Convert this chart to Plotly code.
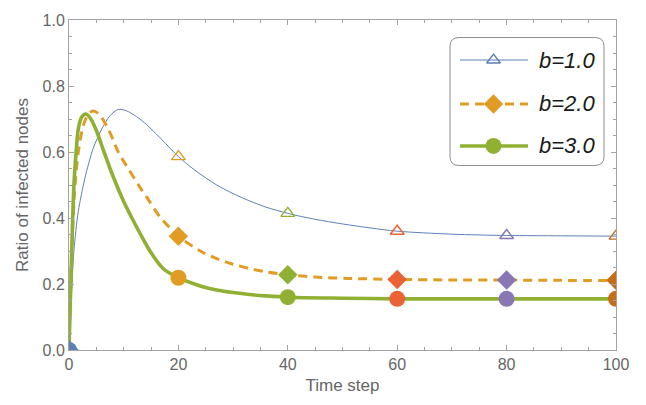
import plotly.graph_objects as go

# ---- data -----------------------------------------------------------------
# ratio of infected nodes over time for three values of b
t_b1 = [0, 0.3, 0.9, 1.7, 2.9, 4.4, 6, 7.5, 9, 10.5, 12, 13.5, 15, 17, 20,
        23, 27, 30, 33, 36, 40, 45, 50, 55, 60, 70, 80, 90, 100]
y_b1 = [0, 0.11, 0.30, 0.42, 0.52, 0.61, 0.67, 0.71, 0.729, 0.725, 0.711, 0.693,
        0.670, 0.637, 0.586, 0.545, 0.500, 0.474, 0.452, 0.433, 0.414, 0.396,
        0.382, 0.370, 0.360, 0.351, 0.347, 0.346, 0.345]

t_b2 = [0, 0.5, 1.1, 1.7, 2.6, 3.5, 4.4, 5.5, 7, 8, 9, 11, 12.7, 14.8, 16.6,
        20, 24, 27, 30, 33, 36, 40, 45, 51, 60, 70, 80, 90, 100]
y_b2 = [0, 0.30, 0.50, 0.60, 0.68, 0.714, 0.724, 0.715, 0.675, 0.64, 0.60,
        0.545, 0.50, 0.448, 0.404, 0.345, 0.300, 0.277, 0.260, 0.247, 0.237,
        0.228, 0.221, 0.217, 0.214, 0.212, 0.212, 0.211, 0.211]

t_b3 = [0, 0.5, 0.9, 1.3, 1.7, 2.3, 3.1, 4, 5, 6.3, 7.5, 8.7, 10, 11.5, 13,
        14.8, 17.2, 20, 24, 27, 30, 33, 36, 40, 50, 60, 70, 80, 90, 100]
y_b3 = [0, 0.305, 0.50, 0.60, 0.67, 0.705, 0.715, 0.70, 0.665, 0.605, 0.55,
        0.50, 0.45, 0.40, 0.353, 0.300, 0.247, 0.219, 0.194, 0.182, 0.174,
        0.168, 0.164, 0.160, 0.157, 0.155, 0.155, 0.155, 0.155, 0.155]

series_names = ["b=1.0", "b=2.0", "b=3.0"]
mesh_t = [0, 20, 40, 60, 80, 100]
mesh_colors = ["#5E81B5", "#E19C24", "#8FB032", "#EB6235", "#8778B3", "#C56E1A"]

x_ticks = [0, 20, 40, 60, 80, 100]
y_ticks = [0.0, 0.2, 0.4, 0.6, 0.8, 1.0]

# ---- styles ---------------------------------------------------------------
FONT = "Liberation Sans, Arial, sans-serif"
FRAME = "#a3a3a3"
LABEL = "#666666"

line_styles = [
    dict(color="#5E81B5", width=1),
    dict(color="#E19C24", width=3, dash="9px,6px"),
    dict(color="#8FB032", width=3.6),
]
marker_styles = [
    dict(symbol="triangle-up-open", size=12, line=dict(width=1.4)),
    dict(symbol="diamond", size=15, line=dict(width=0)),
    dict(symbol="circle", size=16, line=dict(width=0)),
]

curves = [(t_b1, y_b1), (t_b2, y_b2), (t_b3, y_b3)]

fig = go.Figure()

for (t, y), ls in zip(curves, line_styles):
    fig.add_trace(go.Scatter(x=t, y=y, mode="lines",
                             line=dict(shape="spline", smoothing=0.8, **ls),
                             hoverinfo="skip", showlegend=False))

for (t, y), ms in zip(curves, marker_styles):
    lookup = dict(zip(t, y))
    my = [lookup[v] for v in mesh_t]
    m = dict(ms)
    if ms["symbol"].endswith("-open"):
        m["line"] = dict(width=ms["line"]["width"], color=mesh_colors)
    m["color"] = mesh_colors
    fig.add_trace(go.Scatter(x=mesh_t, y=my, mode="markers", marker=m, cliponaxis=True,
                             hoverinfo="skip", showlegend=False))

# ---- legend drawn on a pixel-scaled overlay axis -------------------------
PW, PH = 547, 338   # plot area size in pixels
box_l, box_r, box_b, box_t, rad = 381, 535, 189, 320, 9
entry_y = [297, 252, 209]
seg_x0, seg_x1, mark_x, text_x = 391, 459, 424.5, 468

box_path = (f"M {box_l + rad},{box_b} L {box_r - rad},{box_b} Q {box_r},{box_b} {box_r},{box_b + rad} "
            f"L {box_r},{box_t - rad} Q {box_r},{box_t} {box_r - rad},{box_t} "
            f"L {box_l + rad},{box_t} Q {box_l},{box_t} {box_l},{box_t - rad} "
            f"L {box_l},{box_b + rad} Q {box_l},{box_b} {box_l + rad},{box_b} Z")
fig.add_shape(type="path", path=box_path, xref="x2", yref="y2", layer="below",
              fillcolor="white", line=dict(color="#8c8c8c", width=1))

for name, ey, ls, ms in zip(series_names, entry_y, line_styles, marker_styles):
    fig.add_trace(go.Scatter(x=[seg_x0, seg_x1], y=[ey, ey], mode="lines", line=ls,
                             xaxis="x2", yaxis="y2", cliponaxis=False,
                             hoverinfo="skip", showlegend=False))
    m = dict(ms)
    col = ls["color"]
    if ms["symbol"].endswith("-open"):
        m["line"] = dict(width=ms["line"]["width"], color=col)
    m["color"] = col
    fig.add_trace(go.Scatter(x=[mark_x], y=[ey], mode="markers", marker=m,
                             xaxis="x2", yaxis="y2", cliponaxis=False,
                             hoverinfo="skip", showlegend=False))
    fig.add_annotation(x=text_x, y=ey, xref="x2", yref="y2", text=name, showarrow=False,
                       xanchor="left", yanchor="middle",
                       font=dict(family=FONT, size=22, color="#1a1a1a", style="italic"))

axis_common = dict(
    showgrid=False, zeroline=False, showline=True, linecolor=FRAME, linewidth=1,
    mirror="allticks", ticks="inside", ticklen=5, tickwidth=1, tickcolor=FRAME,
    tickfont=dict(family=FONT, size=16, color=LABEL),
)

fig.update_layout(
    width=646, height=405,
    margin=dict(l=69, r=30, t=12, b=55),
    plot_bgcolor="white", paper_bgcolor="white",
    showlegend=False,
    xaxis=dict(range=[0, 100], tickvals=x_ticks, ticktext=[str(v) for v in x_ticks],
               minor=dict(ticks="inside", ticklen=3, dtick=5, tickcolor=FRAME),
               title=dict(text="Time step", font=dict(family=FONT, size=17, color=LABEL), standoff=6),
               **axis_common),
    yaxis=dict(range=[0, 1], tickvals=y_ticks, ticktext=[f"{v:.1f}" for v in y_ticks],
               minor=dict(ticks="inside", ticklen=3, dtick=0.05, tickcolor=FRAME),
               title=dict(text="Ratio of infected nodes", font=dict(family=FONT, size=17, color=LABEL), standoff=9),
               **axis_common),
    xaxis2=dict(overlaying="x", anchor="y2", range=[0, PW], visible=False, fixedrange=True),
    yaxis2=dict(overlaying="y", anchor="x2", range=[0, PH], visible=False, fixedrange=True),
)

fig.write_html("out.html")
